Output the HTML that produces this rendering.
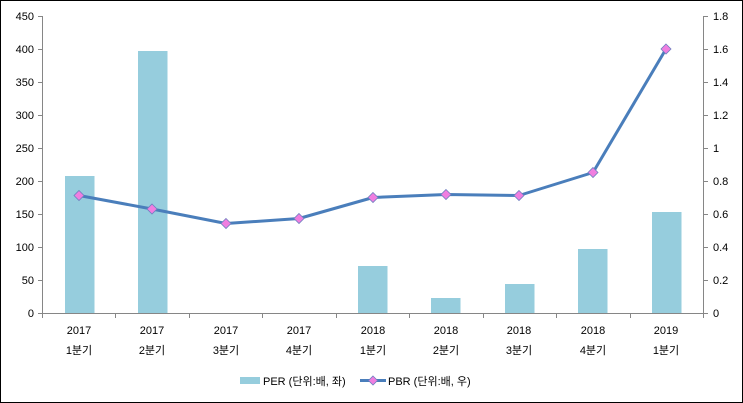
<!DOCTYPE html>
<html><head><meta charset="utf-8"><style>
html,body{margin:0;padding:0;background:#fff}
svg{display:block}
text{font-family:"Liberation Sans","Noto Sans CJK KR","NanumGothic",sans-serif;font-size:11px;fill:#000}
</style></head><body>
<svg width="743" height="403" viewBox="0 0 743 403" xmlns="http://www.w3.org/2000/svg">
<rect x="0.5" y="0.5" width="742" height="402" fill="#fff" stroke="#000" stroke-width="1"/>
<g id="bars" fill="#96cddd">
<rect x="65" y="176" width="29.5" height="137"/>
<rect x="138" y="51" width="29.5" height="262"/>
<rect x="358" y="266" width="29.5" height="47"/>
<rect x="431" y="298" width="29.5" height="15"/>
<rect x="505" y="284" width="29.5" height="29"/>
<rect x="578" y="249" width="29.5" height="64"/>
<rect x="652" y="212" width="29.5" height="101"/>
</g>
<g stroke="#868686" stroke-width="1" fill="none">
<path d="M42.5 16V313.5H703.5M703.5 16V313.5"/>
<path d="M38 16.5h5M38 49.5h5M38 82.5h5M38 115.5h5M38 148.5h5M38 181.5h5M38 214.5h5M38 247.5h5M38 280.5h5M38 313.5h5"/>
<path d="M703 16.5h5M703 49.5h5M703 82.5h5M703 115.5h5M703 148.5h5M703 181.5h5M703 214.5h5M703 247.5h5M703 280.5h5M703 313.5h5"/>
<path d="M42.5 313v5M115.5 313v5M189.5 313v5M262.5 313v5M336.5 313v5M409.5 313v5M483.5 313v5M556.5 313v5M630.5 313v5M703.5 313v5"/>
</g>
<g text-anchor="end">
<text x="34" y="20">450</text><text x="34" y="53">400</text><text x="34" y="86">350</text><text x="34" y="119">300</text><text x="34" y="152">250</text><text x="34" y="185">200</text><text x="34" y="218">150</text><text x="34" y="251">100</text><text x="34" y="284">50</text><text x="34" y="317">0</text>
</g>
<g>
<text x="713" y="20">1.8</text><text x="713" y="53">1.6</text><text x="713" y="86">1.4</text><text x="713" y="119">1.2</text><text x="713" y="152">1</text><text x="713" y="185">0.8</text><text x="713" y="218">0.6</text><text x="713" y="251">0.4</text><text x="713" y="284">0.2</text><text x="713" y="317">0</text>
</g>
<g text-anchor="middle">
<text x="79" y="334">2017</text><text x="79" y="354">1분기</text>
<text x="152" y="334">2017</text><text x="152" y="354">2분기</text>
<text x="226" y="334">2017</text><text x="226" y="354">3분기</text>
<text x="299" y="334">2017</text><text x="299" y="354">4분기</text>
<text x="373" y="334">2018</text><text x="373" y="354">1분기</text>
<text x="446" y="334">2018</text><text x="446" y="354">2분기</text>
<text x="519" y="334">2018</text><text x="519" y="354">3분기</text>
<text x="593" y="334">2018</text><text x="593" y="354">4분기</text>
<text x="666" y="334">2019</text><text x="666" y="354">1분기</text>
</g>
<polyline points="79,195.5 152,209 226,223.5 299,218.5 373,197.5 446,194.5 519,195.5 593,172.5 666,49" fill="none" stroke="#4a7ebb" stroke-width="3" stroke-linejoin="round"/>
<g fill="#f07ee0" stroke="#6f7fc0" stroke-width="0.8">
<path d="M79 190.5l5 5-5 5-5-5z"/><path d="M152 204l5 5-5 5-5-5z"/><path d="M226 218.5l5 5-5 5-5-5z"/><path d="M299 213.5l5 5-5 5-5-5z"/><path d="M373 192.5l5 5-5 5-5-5z"/><path d="M446 189.5l5 5-5 5-5-5z"/><path d="M519 190.5l5 5-5 5-5-5z"/><path d="M593 167.5l5 5-5 5-5-5z"/><path d="M666 44l5 5-5 5-5-5z"/>
</g>
<rect x="240" y="377" width="20" height="7" fill="#96cddd"/>
<text x="263" y="385">PER (단위:배, 좌)</text>
<line x1="360" y1="380.5" x2="386" y2="380.5" stroke="#4a7ebb" stroke-width="3"/>
<path d="M373 376l4.5 4.5-4.5 4.5-4.5-4.5z" fill="#f07ee0" stroke="#6f7fc0" stroke-width="0.8"/>
<text x="388" y="385">PBR (단위:배, 우)</text>
</svg>
</body></html>
